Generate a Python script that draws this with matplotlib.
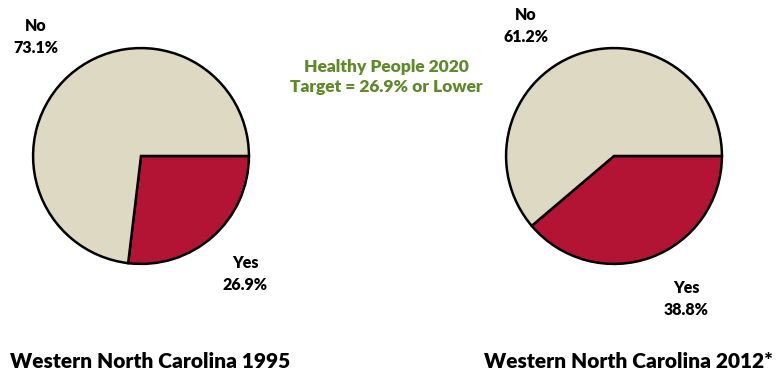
import matplotlib.pyplot as plt

# data
labels = ["Yes", "No"]
wnc_1995 = [26.9, 73.1]
wnc_2012 = [38.8, 61.2]
titles = ["Western North Carolina 1995", "Western North Carolina 2012*"]
target_text = "Healthy People 2020\nTarget = 26.9% or Lower"

COLORS = ["#B41434", "#DDD9C3"]
W, H = 780, 377

plt.rcParams["font.family"] = ["Lato", "DejaVu Sans"]

fig = plt.figure(figsize=(W / 100, H / 100), dpi=100)


def px(x, y):
    # pixel coords (top-left origin) -> figure fraction
    return x / W, 1 - y / H


def add_pie(cx, cy, r, values):
    ax = fig.add_axes([(cx - r) / W, 1 - (cy + r) / H, 2 * r / W, 2 * r / H])
    ax.pie(values, colors=COLORS, startangle=0, counterclock=False,
           wedgeprops=dict(edgecolor="black", linewidth=1.8))
    ax.set_xlim(-1.01, 1.01)
    ax.set_ylim(-1.01, 1.01)
    ax.set_aspect("equal")
    ax.axis("off")
    return ax


add_pie(141, 156, 109, wnc_1995)
add_pie(614, 156, 109, wnc_2012)

lab_kw = dict(ha="center", va="center", fontsize=11.5, fontweight="heavy",
              linespacing=1.4)

fig.text(*px(36, 37), f"No\n{wnc_1995[1]:.1f}%", **lab_kw)
fig.text(*px(245, 274), f"Yes\n{wnc_1995[0]:.1f}%", **lab_kw)
fig.text(*px(526, 26), f"No\n{wnc_2012[1]:.1f}%", **lab_kw)
fig.text(*px(686, 299), f"Yes\n{wnc_2012[0]:.1f}%", **lab_kw)

fig.text(*px(386, 77), target_text, ha="center", va="center", fontsize=12.5,
         fontweight="heavy", color="#5E8A2A", linespacing=1.3)

fig.text(*px(150, 361), titles[0], ha="center", va="center",
         fontsize=15, fontweight="heavy")
fig.text(*px(628, 361), titles[1], ha="center", va="center",
         fontsize=15, fontweight="heavy")

fig.savefig("out.png", dpi=100)
